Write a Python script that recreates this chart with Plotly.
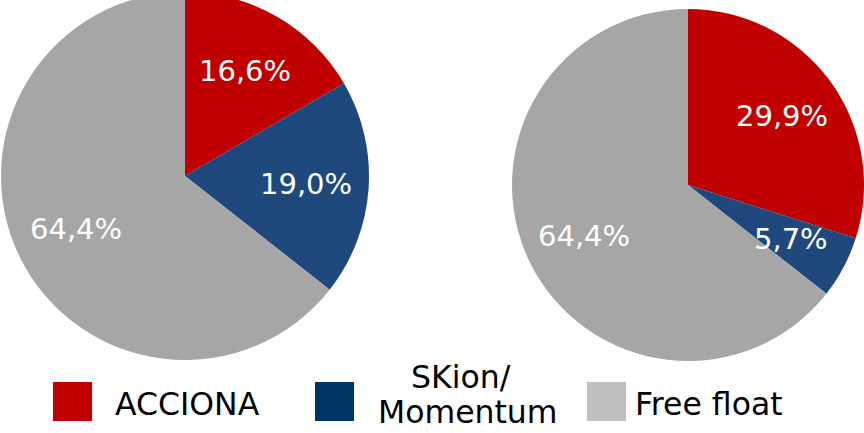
import numpy as np
import plotly.graph_objects as go

categories = ["ACCIONA", "SKion/ Momentum", "Free float"]
left_values = [16.6, 19.0, 64.4]
right_values = [29.9, 5.7, 64.4]
legend_labels = ["ACCIONA", "SKion/", "Momentum", "Free float"]

slice_colors = ["#C00000", "#1F497D", "#A6A6A6"]
legend_colors = ["#C00000", "#003366", "#BFBFBF"]

# The figure is 8px taller than the window and lifted by 8px, so the top of
# the left pie is clipped by the window edge as in the reference.
OFF = 8
W, H = 864, 433 + OFF
FONT = "DejaVu Sans, Verdana, sans-serif"


def px_x(x):
    return x / W


def px_y(y):  # y in window pixels from top
    return 1 - (y + OFF) / H


def fmt(v):
    return f"{v:.1f}".replace(".", ",") + "%"


fig = go.Figure()

pies = [
    dict(values=left_values, cx=185, cy=176, r=184),
    dict(values=right_values, cx=688, cy=185, r=176),
]

annotations = []
for p in pies:
    cx, cy, r = p["cx"], p["cy"], p["r"]
    fig.add_trace(go.Pie(
        labels=categories,
        values=p["values"],
        sort=False,
        direction="clockwise",
        rotation=0,
        marker=dict(colors=slice_colors, line=dict(width=0)),
        textinfo="none",
        hoverinfo="label+percent",
        showlegend=False,
        domain=dict(x=[px_x(cx - r), px_x(cx + r)],
                    y=[px_y(cy + r), px_y(cy - r)]),
    ))
    vals = np.array(p["values"], dtype=float)
    ends = np.cumsum(vals) / vals.sum() * 2 * np.pi
    mids = ends - vals / vals.sum() * np.pi
    for v, a in zip(vals, mids):
        lx = cx + 0.66 * r * np.sin(a)
        ly = cy - 0.66 * r * np.cos(a)
        annotations.append(dict(
            x=px_x(lx), y=px_y(ly), xref="paper", yref="paper",
            text=fmt(v), showarrow=False, xanchor="center", yanchor="middle",
            font=dict(family=FONT, size=29, color="white"),
        ))

# custom legend
box_x = [53, 315, 587]
for i, c in enumerate(legend_colors):
    fig.add_shape(type="rect", xref="paper", yref="paper",
                  x0=px_x(box_x[i]), x1=px_x(box_x[i] + 39),
                  y0=px_y(421), y1=px_y(382),
                  fillcolor=c, line=dict(width=0))

legend_text_pos = [  # (x, y, xanchor)
    (113, 404, "left"),
    (461, 377, "center"),
    (468, 412, "center"),
    (633, 404, "left"),
]
for lab, (x, y, xa) in zip(legend_labels, legend_text_pos):
    annotations.append(dict(x=px_x(x), y=px_y(y), xref="paper", yref="paper",
                            text=lab, showarrow=False, xanchor=xa, yanchor="middle",
                            font=dict(family=FONT, size=31.5, color="black")))

fig.update_layout(
    width=W, height=H,
    margin=dict(l=0, r=0, t=0, b=0),
    paper_bgcolor="white",
    plot_bgcolor="white",
    annotations=annotations,
    font=dict(family=FONT),
)

fig.write_html(
    "out.html",
    config={"displayModeBar": False},
    post_script=(
        "document.documentElement.style.overflow='hidden';"
        "document.body.style.overflow='hidden';"
        "document.body.style.margin='0px';"
        f"document.body.style.marginTop='-{OFF}px';"
    ),
)
